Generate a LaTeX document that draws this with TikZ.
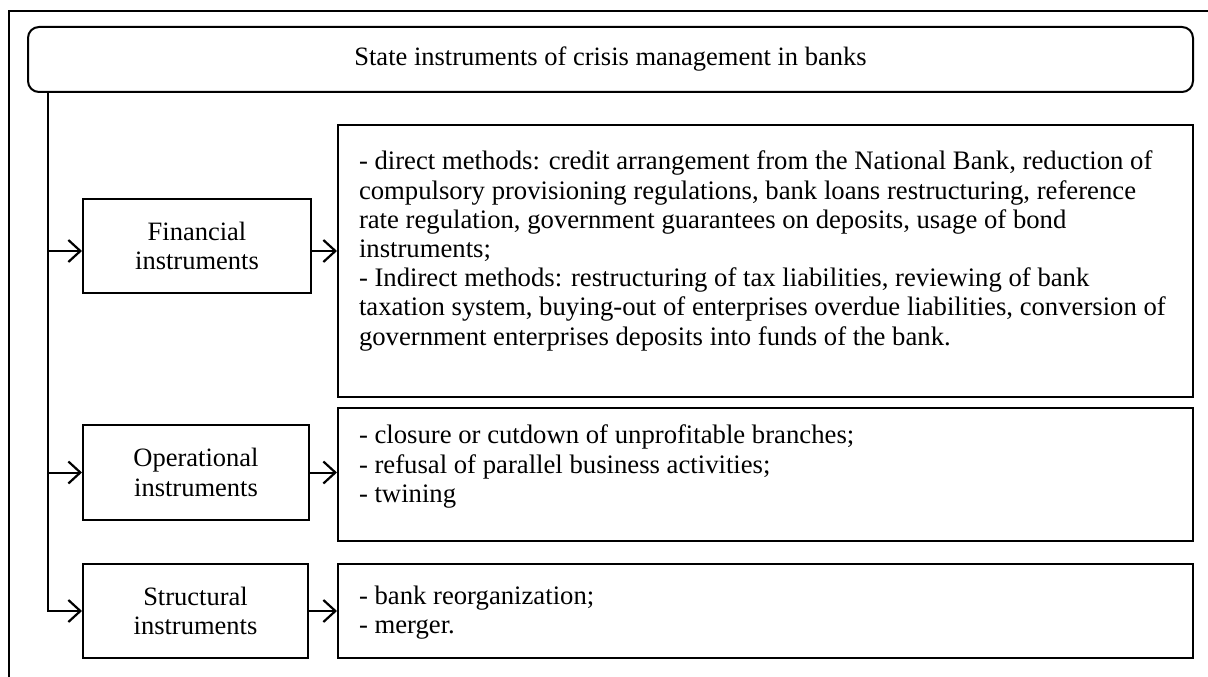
\documentclass[tikz,border=0pt]{standalone}
\usepackage{fontspec}
\setmainfont{Liberation Serif}
\usetikzlibrary{arrows.meta}
\begin{document}
\begin{tikzpicture}[x=1pt,y=-1pt,line width=2pt,
  box/.style={draw,rectangle,inner sep=0pt},
  lbl/.style={font=\fontsize{26.5}{29.2}\selectfont,align=center},
  txt/.style={font=\fontsize{26.7}{29.2}\selectfont,align=left,inner sep=0pt,anchor=north west},
  arr/.style={-{Straight Barb[length=12pt,width=22pt,line width=2.2pt]}}]
\useasboundingbox (0,0) rectangle (1208,677);
% outer frame
\draw (9,677) -- (9,11) -- (1208,11);
% title
\node[draw,rounded corners=11pt,minimum width=1165pt,minimum height=65pt,inner sep=0pt,
  font=\fontsize{26.5}{29.2}\selectfont] (title) at (610.5,59.5) {State instruments of crisis management in banks};
% left boxes
\node[box,minimum width=228pt,minimum height=94pt,lbl] (fin) at (197,246) {Financial\\instruments};
\node[box,minimum width=226pt,minimum height=95pt,lbl] (op) at (196,472.5) {Operational\\instruments};
\node[box,minimum width=225pt,minimum height=94pt,lbl] (st) at (195.5,611) {Structural\\instruments};
% right boxes
\node[box,minimum width=855pt,minimum height=272pt] (b1) at (765.5,261) {};
\node[box,minimum width=855pt,minimum height=133pt] (b2) at (765.5,474) {};
\node[box,minimum width=855pt,minimum height=94pt] (b3) at (765.5,611) {};
% texts
\node[txt] (t1) at (358,150) {- direct methods: credit arrangement from the National Bank, reduction of\\
compulsory provisioning regulations, bank loans restructuring, reference\\
rate regulation, government guarantees on deposits, usage of bond\\
instruments;\\
- Indirect methods: restructuring of tax liabilities, reviewing of bank\\
taxation system, buying-out of enterprises overdue liabilities, conversion of\\
government enterprises deposits into funds of the bank.};
\node[txt] (t2) at (358,424) {- closure or cutdown of unprofitable branches;\\
- refusal of parallel business activities;\\
- twining};
\node[txt] (t3) at (358,585) {- bank reorganization;\\
- merger.};
% trunk and arrows
\coordinate (top) at (48,92);
\coordinate (jf) at (48,251);
\coordinate (jo) at (48,472.5);
\draw (top) -- (jo);
\draw[arr] (jf) -- (fin.west |- jf);
\draw[arr] (jo) -- (op.west);
\draw[arr] (jo) |- (st.west);
\draw[arr] (fin.east |- jf) -- (b1.west |- jf);
\draw[arr] (op.east) -- (b2.west |- op.east);
\draw[arr] (st.east) -- (b3.west);
\end{tikzpicture}
\end{document}
